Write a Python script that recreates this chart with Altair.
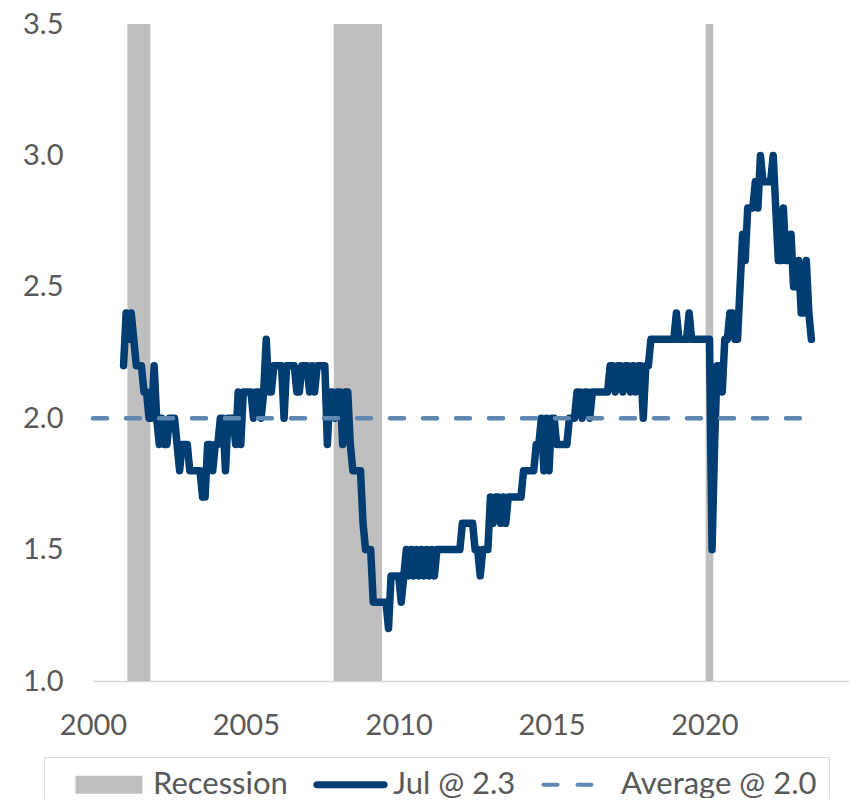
import altair as alt
import pandas as pd

# ---- data (monthly values) ----
years = list(range(2001, 2024))
v2001 = [2.2, 2.4, 2.3, 2.4, 2.3, 2.2, 2.2, 2.2, 2.1, 2.1, 2.0, 2.0]
v2002 = [2.2, 2.0, 1.9, 2.0, 1.9, 1.9, 2.0, 2.0, 2.0, 1.9, 1.8, 1.9]
v2003 = [1.9, 1.9, 1.8, 1.8, 1.8, 1.8, 1.8, 1.7, 1.7, 1.9, 1.9, 1.8]
v2004 = [1.9, 1.9, 2.0, 2.0, 1.8, 2.0, 2.0, 2.0, 1.9, 2.1, 1.9, 2.1]
v2005 = [2.1, 2.1, 2.1, 2.0, 2.1, 2.1, 2.0, 2.1, 2.3, 2.1, 2.1, 2.2]
v2006 = [2.2, 2.2, 2.2, 2.0, 2.2, 2.2, 2.2, 2.2, 2.1, 2.1, 2.2, 2.2]
v2007 = [2.2, 2.1, 2.2, 2.1, 2.2, 2.2, 2.2, 2.2, 1.9, 2.1, 2.1, 2.0]
v2008 = [2.1, 2.1, 1.9, 2.1, 2.1, 1.9, 1.8, 1.8, 1.8, 1.8, 1.6, 1.5]
v2009 = [1.5, 1.5, 1.3, 1.3, 1.3, 1.3, 1.3, 1.3, 1.2, 1.4, 1.4, 1.4]
v2010 = [1.4, 1.3, 1.4, 1.5, 1.4, 1.5, 1.4, 1.5, 1.4, 1.5, 1.4, 1.5]
v2011 = [1.4, 1.5, 1.4, 1.5, 1.5, 1.5, 1.5, 1.5, 1.5, 1.5, 1.5, 1.5]
v2012 = [1.5, 1.6, 1.6, 1.6, 1.6, 1.6, 1.5, 1.5, 1.4, 1.5, 1.5, 1.5]
v2013 = [1.7, 1.6, 1.7, 1.7, 1.6, 1.7, 1.6, 1.7, 1.7, 1.7, 1.7, 1.7]
v2014 = [1.7, 1.8, 1.8, 1.8, 1.8, 1.8, 1.9, 1.9, 2.0, 1.8, 2.0, 1.8]
v2015 = [2.0, 2.0, 1.9, 1.9, 1.9, 1.9, 1.9, 2.0, 2.0, 2.0, 2.1, 2.1]
v2016 = [2.0, 2.1, 2.1, 2.0, 2.1, 2.1, 2.1, 2.1, 2.1, 2.1, 2.1, 2.2]
v2017 = [2.2, 2.1, 2.2, 2.2, 2.1, 2.2, 2.2, 2.1, 2.2, 2.1, 2.2, 2.2]
v2018 = [2.0, 2.2, 2.2, 2.3, 2.3, 2.3, 2.3, 2.3, 2.3, 2.3, 2.3, 2.3]
v2019 = [2.3, 2.4, 2.3, 2.3, 2.3, 2.3, 2.4, 2.3, 2.3, 2.3, 2.3, 2.3]
v2020 = [2.3, 2.3, 2.3, 1.5, 1.9, 2.2, 2.2, 2.1, 2.3, 2.3, 2.4, 2.4]
v2021 = [2.3, 2.3, 2.5, 2.7, 2.6, 2.8, 2.8, 2.8, 2.9, 2.8, 3.0, 2.9]
v2022 = [2.9, 2.9, 2.9, 3.0, 2.8, 2.6, 2.6, 2.8, 2.6, 2.6, 2.7, 2.5]
v2023 = [2.5, 2.6, 2.4, 2.4, 2.6, 2.4, 2.3]
monthly = [v2001, v2002, v2003, v2004, v2005, v2006, v2007, v2008, v2009,
           v2010, v2011, v2012, v2013, v2014, v2015, v2016, v2017, v2018,
           v2019, v2020, v2021, v2022, v2023]

# recessions (year, month) inclusive
rec_start = [(2001, 3), (2007, 12), (2020, 2)]
rec_end = [(2001, 11), (2009, 6), (2020, 4)]

avg_value = 2.0
avg_start_year = 2000.0

legend_labels = ["Recession", "Jul @ 2.3", "Average @ 2.0"]
x_ticks = [2000, 2005, 2010, 2015, 2020]
y_ticks = [1.0, 1.5, 2.0, 2.5, 3.0, 3.5]

# ---- tables ----
rows = []
for yr, vals in zip(years, monthly):
    for i, v in enumerate(vals):
        rows.append({"t": yr + i / 12.0, "v": v})
line_df = pd.DataFrame(rows)

rec_df = pd.DataFrame({
    "t0": [y + (m - 1) / 12.0 - 1 / 24.0 for y, m in rec_start],
    "t1": [y + (m - 1) / 12.0 + 1 / 24.0 for y, m in rec_end],
})
avg_df = pd.DataFrame({"t0": [avg_start_year], "t1": [line_df["t"].max()], "v": [avg_value]})
leg_df = pd.DataFrame({"series": legend_labels})

NAVY = "#003D73"
STEEL = "#5E88B2"
GREY = "#BFBFBF"
TXT = "#595959"

xscale = alt.Scale(domain=[2000, 2024.73], nice=False, zero=False)
yscale = alt.Scale(domain=[1.0, 3.5], nice=False, zero=False)

x_axis = alt.Axis(values=x_ticks, format="d", labelFontSize=29, labelPadding=30,
                  ticks=False, tickSize=0, grid=False, domainColor="#D9D9D9",
                  domainWidth=1.5, title=None, labelFlush=False, labelOverlap=False,
                  labelColor=TXT, labelFont="Lato")
y_axis = alt.Axis(values=y_ticks, format=".1f", labelFontSize=29, labelPadding=30,
                  ticks=False, tickSize=0, grid=False, domain=False, title=None,
                  labelColor=TXT, labelFont="Lato", labelOverlap=False)

rect = alt.Chart(rec_df).mark_rect(color=GREY).encode(
    x=alt.X("t0:Q", scale=xscale, axis=x_axis),
    x2="t1:Q",
    y=alt.Y(datum=3.5, scale=yscale, axis=y_axis),
    y2=alt.Y2(datum=1.0),
)

line = alt.Chart(line_df).mark_line(color=NAVY, strokeWidth=7.5, strokeCap="round",
                                    strokeJoin="round").encode(
    x=alt.X("t:Q", scale=xscale),
    y=alt.Y("v:Q", scale=yscale),
)

avg = alt.Chart(avg_df).mark_rule(color=STEEL, strokeWidth=4.5, strokeDash=[14, 19],
                                  strokeCap="round").encode(
    x=alt.X("t0:Q", scale=xscale),
    x2="t1:Q",
    y=alt.Y("v:Q", scale=yscale),
)

# legend symbols as custom paths (unit = 15 px for size 900)
paths = [
    "M-2.267,-0.6H2.2V0.6H-2.267Z",
    "M-2.187,-0.227H2.32A0.227,0.227 0 0 1 2.32,0.227H-2.187A0.227,0.227 0 0 1 -2.187,-0.227Z",
    "M-2.267,-0.133H-1.333A0.133,0.133 0 0 1 -1.333,0.133H-2.267A0.133,0.133 0 0 1 -2.267,-0.133Z"
    "M0,-0.133H0.933A0.133,0.133 0 0 1 0.933,0.133H0A0.133,0.133 0 0 1 0,-0.133Z",
]
leg = alt.Legend(title=None, orient="none", legendX=-49, legendY=733, direction="horizontal",
                 labelFont="Lato", labelFontSize=31, labelColor=TXT, labelLimit=500,
                 symbolSize=900, symbolStrokeWidth=0, symbolOffset=38, labelOffset=28,
                 symbolOpacity=1, columnPadding=8, padding=12, strokeColor="#D9D9D9")
legend_layer = alt.Chart(leg_df).mark_point(filled=True, opacity=1).encode(
    x=alt.X("t:Q", scale=xscale),
    y=alt.Y("v:Q", scale=yscale),
    shape=alt.Shape("series:N", scale=alt.Scale(domain=legend_labels, range=paths), legend=leg),
    fill=alt.Fill("series:N", scale=alt.Scale(domain=legend_labels, range=[GREY, NAVY, STEEL]),
                  legend=leg),
).transform_filter("datum.series == 'none'")

chart = alt.layer(rect, line, avg, legend_layer).properties(
    width=756, height=657,
    padding={"left": 85, "top": 16, "right": 0, "bottom": 117},
    autosize=alt.AutoSizeParams(type="none"),
).configure(font="Lato", view=alt.ViewConfig(stroke=None))

chart.save("out.html", embed_options={"renderer": "svg", "actions": False})
